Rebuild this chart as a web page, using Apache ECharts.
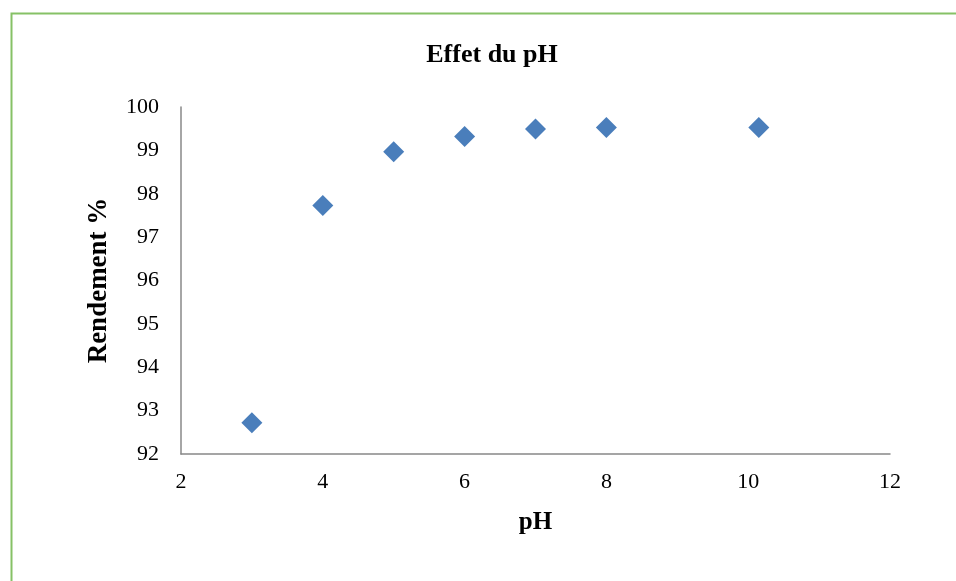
<!DOCTYPE html>
<html><head><meta charset="utf-8">
<script src="https://cdn.jsdelivr.net/npm/echarts@6/dist/echarts.min.js"></script>
<style>html,body{margin:0;padding:0;background:#fff}#c{width:956px;height:581px}</style>
</head><body><div id="c"></div>
<script>
const phValues = [3, 4, 5, 6, 7, 8, 10.15];
const rendementValues = [92.72, 97.73, 98.97, 99.32, 99.49, 99.53, 99.53];
const titleText = 'Effet du pH';
const xName = 'pH';
const yName = 'Rendement %';

const font = '"Liberation Serif", "Times New Roman", serif';
const chart = echarts.init(document.getElementById('c'));
chart.setOption({
  animation: false,
  backgroundColor: '#fff',
  graphic: [{
    type: 'rect', left: 9, top: 11, silent: true,
    shape: { x: 0, y: 0, width: 1000, height: 620 },
    style: { fill: 'none', stroke: '#86c166', lineWidth: 2 }
  }],
  title: {
    text: titleText, left: 487, top: 37, textAlign: 'center',
    textStyle: { fontFamily: font, fontWeight: 'bold', fontSize: 26, color: '#000' }
  },
  grid: { left: 181, right: 66, top: 107, bottom: 127 },
  xAxis: {
    type: 'value', min: 2, max: 12, interval: 2,
    name: xName, nameLocation: 'middle', nameGap: 56,
    nameTextStyle: { fontFamily: font, fontWeight: 'bold', fontSize: 25, color: '#000' },
    axisLine: { lineStyle: { color: '#888', width: 1.5 } },
    axisTick: { show: false },
    splitLine: { show: false },
    axisLabel: { fontFamily: font, fontSize: 22, color: '#000', margin: 17 }
  },
  yAxis: {
    type: 'value', min: 92, max: 100, interval: 1,
    name: yName, nameLocation: 'middle', nameGap: 68, nameRotate: 90,
    nameTextStyle: { fontFamily: font, fontWeight: 'bold', fontSize: 27, color: '#000' },
    axisLine: { show: true, lineStyle: { color: '#888', width: 1.5 } },
    axisTick: { show: false },
    splitLine: { show: false },
    axisLabel: { fontFamily: font, fontSize: 22, color: '#000', margin: 22 }
  },
  series: [{
    type: 'scatter',
    symbol: 'diamond', symbolSize: [21, 21],
    itemStyle: { color: '#4a7ebb', opacity: 1 },
    data: phValues.map((x, i) => [x, rendementValues[i]])
  }]
});
</script></body></html>
